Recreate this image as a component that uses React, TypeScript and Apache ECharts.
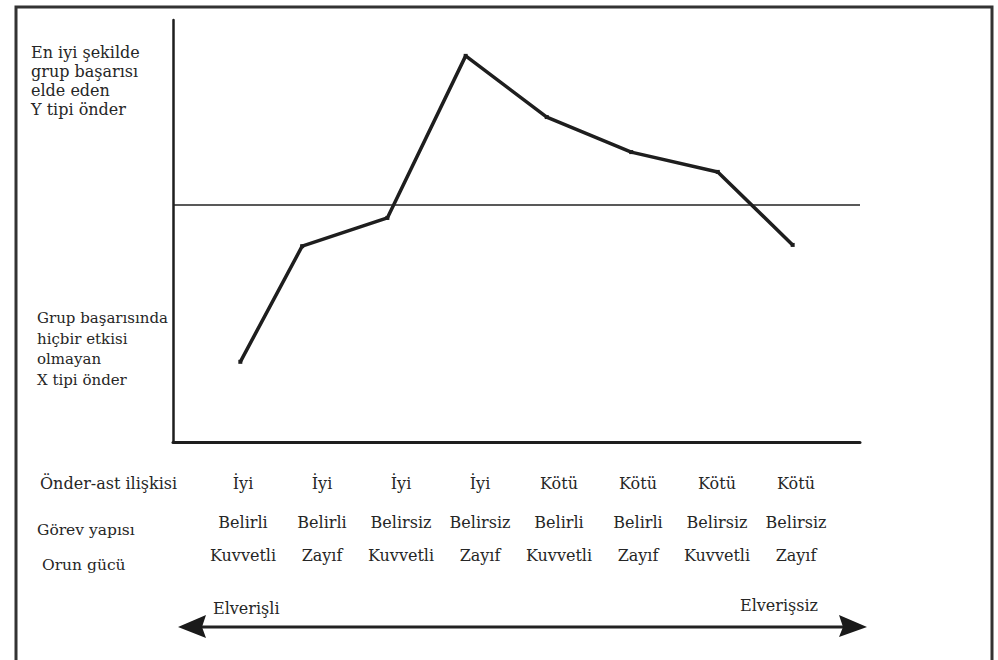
import React, { useEffect, useRef } from "react";
import * as echarts from "echarts";

// Situation columns (Fiedler contingency model)
const relationRow = ["İyi", "İyi", "İyi", "İyi", "Kötü", "Kötü", "Kötü", "Kötü"];
const taskRow = ["Belirli", "Belirli", "Belirsiz", "Belirsiz", "Belirli", "Belirli", "Belirsiz", "Belirsiz"];
const powerRow = ["Kuvvetli", "Zayıf", "Kuvvetli", "Zayıf", "Kuvvetli", "Zayıf", "Kuvvetli", "Zayıf"];
const rowTitles = ["Önder-ast ilişkisi", "Görev yapısı", "Orun gücü"];

// Curve values (x: situation position, y: group success)
const situationX = [0.98, 1.88, 3.12, 4.26, 5.44, 6.67, 7.93, 9.02];
const performance = [19, 46.4, 53.1, 91.5, 77, 68.7, 64, 46.7];
const neutralLevel = 56.2;

const topLabelLines = ["En iyi şekilde", "grup başarısı", "elde eden", "Y tipi önder"];
const bottomLabelLines = ["Grup başarısında", "hiçbir etkisi", "olmayan", "X tipi önder"];
const scaleEnds = ["Elverişli", "Elverişsiz"];

const FONT = "'DejaVu Serif', 'Liberation Serif', serif";
const INK = "#1e1e1e";
const TEXT = "#262626";

export default function App() {
  const ref = useRef<HTMLDivElement>(null);
  useEffect(() => {
    if (!ref.current) return;
    const chart = echarts.init(ref.current, undefined, { renderer: "svg" });
    const labelAxis = (data: string[], margin: number) => ({
      type: "category",
      gridIndex: 1,
      position: "bottom",
      data,
      boundaryGap: true,
      axisLine: { show: false },
      axisTick: { show: false },
      splitLine: { show: false },
      axisLabel: {
        interval: 0,
        margin,
        fontFamily: FONT,
        fontSize: 16,
        color: TEXT,
      },
    });
    chart.setOption({
      animation: false,
      backgroundColor: "#ffffff",
      grid: [
        { left: 173, right: 138, top: 20, bottom: 218 },
        { left: 203.5, right: 162.5, top: 20, bottom: 218 },
      ],
      xAxis: [
        {
          type: "value",
          gridIndex: 0,
          min: 0,
          max: 10,
          axisLine: { show: true, onZero: false, lineStyle: { color: INK, width: 3 } },
          axisTick: { show: false },
          axisLabel: { show: false },
          splitLine: { show: false },
        },
        labelAxis(relationRow, 33),
        labelAxis(taskRow, 72),
        labelAxis(powerRow, 105),
      ],
      yAxis: [
        {
          type: "value",
          gridIndex: 0,
          min: 0,
          max: 100,
          axisLine: { show: true, onZero: false, lineStyle: { color: INK, width: 2.5 } },
          axisTick: { show: false },
          axisLabel: { show: false },
          splitLine: { show: false },
        },
        {
          type: "value",
          gridIndex: 1,
          show: false,
          min: 0,
          max: 1,
        },
      ],
      series: [
        {
          type: "line",
          xAxisIndex: 0,
          yAxisIndex: 0,
          data: situationX.map((x, i) => [x, performance[i]]),
          lineStyle: { color: INK, width: 3.5 },
          itemStyle: { color: INK },
          symbol: "rect",
          symbolSize: 4,
          silent: true,
          markLine: {
            silent: true,
            symbol: ["none", "none"],
            label: { show: false },
            lineStyle: { color: "#222", width: 1.5, type: "solid" },
            data: [{ yAxis: neutralLevel }],
          },
        },
      ],
      graphic: [
        {
          type: "rect",
          shape: { x: 16, y: 7, width: 976, height: 660 },
          style: { fill: "none", stroke: "#333", lineWidth: 3 },
          silent: true,
        },
        {
          type: "text",
          x: 31,
          y: 42.5,
          style: {
            text: topLabelLines.join("\n"),
            fontFamily: FONT,
            fontSize: 16,
            lineHeight: 19,
            fill: TEXT,
            verticalAlign: "top",
          },
        },
        {
          type: "text",
          x: 37,
          y: 308,
          style: {
            text: bottomLabelLines.join("\n"),
            fontFamily: FONT,
            fontSize: 15,
            lineHeight: 20.5,
            fill: TEXT,
            verticalAlign: "top",
          },
        },
        {
          type: "text",
          x: 40,
          y: 483,
          style: { text: rowTitles[0], fontFamily: FONT, fontSize: 16, fill: TEXT, verticalAlign: "middle" },
        },
        {
          type: "text",
          x: 37,
          y: 530,
          style: { text: rowTitles[1], fontFamily: FONT, fontSize: 15.5, fill: TEXT, verticalAlign: "middle" },
        },
        {
          type: "text",
          x: 42,
          y: 565,
          style: { text: rowTitles[2], fontFamily: FONT, fontSize: 15.5, fill: TEXT, verticalAlign: "middle" },
        },
        {
          type: "text",
          x: 213,
          y: 608,
          style: { text: scaleEnds[0], fontFamily: FONT, fontSize: 16, fill: TEXT, verticalAlign: "middle" },
        },
        {
          type: "text",
          x: 740,
          y: 605,
          style: { text: scaleEnds[1], fontFamily: FONT, fontSize: 16, fill: TEXT, verticalAlign: "middle" },
        },
        {
          type: "line",
          shape: { x1: 195, y1: 627, x2: 850, y2: 627 },
          style: { stroke: "#222", lineWidth: 3 },
        },
        {
          type: "polygon",
          shape: { points: [[178, 627], [206, 615], [202, 627], [206, 638]] },
          style: { fill: "#1a1a1a" },
        },
        {
          type: "polygon",
          shape: { points: [[867, 627], [839, 615], [843, 627], [839, 637]] },
          style: { fill: "#1a1a1a" },
        },
      ],
    });
    return () => chart.dispose();
  }, []);
  return (
    <div
      ref={ref}
      style={{ position: "absolute", left: 0, top: 0, width: 998, height: 660, background: "#fff" }}
    />
  );
}
